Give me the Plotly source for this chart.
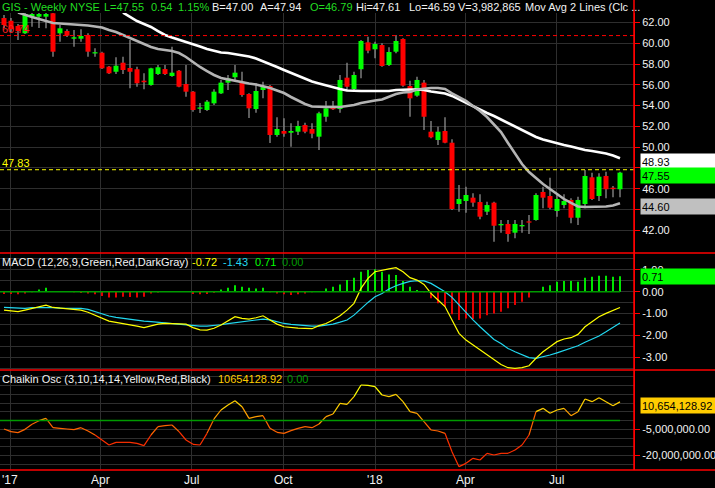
import pandas as pd
import plotly.graph_objects as go

# ---------------- data ----------------
start_week = "2016-12-26"
n_weeks = 89
weeks = pd.date_range(start_week, periods=n_weeks, freq="7D")

open_ = [62.43, 62.17, 61.66, 60.96, 62.56, 62.56, 62.56, 62.89, 60.96, 61.18,
         60.44, 60.44, 60.80, 59.02, 59.09, 57.75, 57.26, 58.13, 57.62, 57.50,
         56.40, 55.98, 57.04, 57.52, 56.85, 57.36, 56.08, 55.34, 53.70, 53.58,
         54.22, 55.18, 56.21, 56.73, 56.30, 55.12, 53.67, 55.50, 55.89, 51.17,
         51.56, 51.39, 51.49, 52.13, 51.75, 51.01, 52.93, 53.90, 53.67, 56.69,
         55.60, 57.50, 60.09, 59.42, 59.83, 57.91, 59.19, 60.41, 55.89, 54.96,
         56.21, 51.49, 50.69, 51.56, 50.43, 44.53, 44.82, 45.14, 44.72, 43.79,
         44.66, 42.48, 42.61, 41.77, 42.38, 42.86, 42.99, 45.69, 45.30, 43.86,
         44.43, 44.92, 43.21, 44.53, 47.10, 45.30, 47.23, 46.10, 45.95]
high = [62.72, 62.43, 61.86, 63.30, 63.30, 63.30, 63.30, 63.30, 61.76, 61.35,
        61.28, 61.35, 60.96, 59.52, 59.19, 57.81, 58.65, 58.71, 60.32, 57.75,
        57.11, 57.65, 57.91, 57.91, 59.67, 57.43, 57.91, 55.41, 54.25, 54.54,
        55.57, 56.47, 56.95, 57.91, 57.26, 55.19, 56.15, 56.30, 55.98, 52.87,
        52.78, 52.30, 52.55, 52.36, 52.30, 53.42, 54.44, 54.44, 56.95, 58.13,
        57.26, 60.32, 60.63, 60.15, 60.00, 59.61, 60.80, 60.48, 56.40, 56.78,
        56.47, 52.52, 51.97, 52.87, 50.76, 46.36, 46.20, 45.56, 45.46, 44.75,
        44.75, 42.99, 42.99, 42.99, 42.99, 43.47, 45.56, 46.20, 47.06, 45.56,
        45.46, 45.08, 45.23, 47.80, 47.54, 47.49, 47.64, 46.26, 47.64]
low = [61.47, 61.09, 60.32, 60.89, 61.60, 61.47, 61.44, 58.71, 60.15, 60.61,
       59.67, 60.15, 58.71, 58.71, 57.52, 57.04, 57.04, 57.04, 55.67, 55.82,
       55.57, 55.92, 56.95, 56.95, 56.78, 55.76, 54.86, 53.41, 53.29, 53.48,
       54.06, 55.12, 55.50, 56.47, 54.86, 52.81, 53.32, 54.70, 50.40, 51.01,
       51.01, 50.05, 51.17, 51.34, 50.85, 49.73, 52.45, 53.58, 53.32, 55.50,
       55.50, 56.63, 59.04, 58.55, 57.75, 57.81, 59.04, 55.82, 52.93, 54.86,
       51.65, 50.85, 50.21, 50.37, 43.95, 43.79, 43.69, 44.27, 43.06, 43.47,
       40.90, 41.77, 40.90, 41.23, 41.77, 41.64, 42.92, 44.12, 44.02, 43.31,
       44.12, 42.67, 42.51, 44.12, 44.92, 44.82, 45.08, 45.17, 45.17]
close = [61.76, 61.35, 61.18, 62.82, 62.82, 62.82, 62.82, 59.19, 61.44, 60.73,
         60.58, 60.70, 59.19, 59.14, 57.59, 57.11, 57.84, 57.43, 57.26, 56.15,
         56.25, 57.59, 57.69, 57.04, 57.17, 55.82, 55.34, 53.58, 53.82, 54.38,
         55.34, 56.21, 56.63, 57.17, 55.02, 53.74, 55.41, 55.82, 51.17, 51.75,
         51.30, 51.56, 52.04, 51.49, 51.30, 53.26, 53.74, 53.65, 56.47, 55.82,
         56.95, 60.22, 59.29, 59.93, 57.81, 59.16, 60.22, 55.92, 54.70, 56.47,
         52.93, 50.95, 51.49, 50.43, 44.05, 45.01, 45.40, 44.66, 43.31, 44.43,
         42.44, 42.61, 41.64, 42.61, 42.51, 42.74, 45.40, 45.14, 44.17, 45.01,
         44.82, 43.21, 44.92, 47.23, 45.01, 47.16, 45.95, 45.96, 47.55]

ma_fast = [None, None, 62.95, 62.72, 62.53, 62.34, 62.14, 61.95, 61.90, 61.86,
           61.81, 61.76, 61.71, 61.62, 61.52, 61.28, 61.09, 60.80, 60.51, 60.22,
           59.93, 59.64, 59.45, 59.35, 59.26, 59.06, 58.68, 58.20, 57.72, 57.33,
           56.95, 56.66, 56.51, 56.42, 56.27, 56.13, 56.03, 55.89, 55.70, 55.46,
           55.21, 54.83, 54.49, 54.16, 53.92, 53.87, 53.87, 53.87, 53.87, 53.96,
           54.06, 54.25, 54.40, 54.49, 54.59, 54.83, 55.12, 55.26, 55.31, 55.55,
           55.65, 55.70, 55.70, 55.60, 55.17, 54.78, 54.45, 53.96, 53.48, 52.90,
           52.23, 51.46, 50.40, 49.44, 48.38, 47.61, 47.03, 46.45, 45.97, 45.49,
           45.01, 44.63, 44.29, 44.24, 44.24, 44.24, 44.29, 44.39, 44.60]
ma_slow = [None] * 17 + [
           62.95, 62.53, 62.14, 61.86, 61.57, 61.18, 60.80, 60.56, 60.36, 60.12,
           59.93, 59.69, 59.45, 59.26, 59.11, 59.06, 58.97, 58.87, 58.73, 58.54,
           58.29, 58.01, 57.72, 57.43, 57.14, 56.85, 56.56, 56.32, 56.13, 55.94,
           55.74, 55.60, 55.46, 55.41, 55.41, 55.41, 55.41, 55.41, 55.41, 55.50,
           55.55, 55.55, 55.55, 55.50, 55.36, 55.26, 55.17, 54.93, 54.59, 54.25,
           53.92, 53.58, 53.29, 53.00, 52.66, 52.33, 51.94, 51.61, 51.32, 50.98,
           50.74, 50.55, 50.35, 50.21, 50.07, 49.87, 49.73, 49.63, 49.54, 49.39,
           49.20, 48.93]

macd = [-0.84, -0.88, -0.91, -0.84, -0.76, -0.68, -0.61, -0.72, -0.75, -0.76,
        -0.79, -0.84, -0.94, -1.07, -1.22, -1.34, -1.40, -1.45, -1.49, -1.57,
        -1.64, -1.55, -1.48, -1.45, -1.45, -1.45, -1.48, -1.64, -1.74, -1.75,
        -1.67, -1.52, -1.34, -1.14, -1.22, -1.25, -1.19, -1.10, -1.29, -1.48,
        -1.60, -1.64, -1.66, -1.67, -1.69, -1.55, -1.45, -1.29, -1.10, -0.84,
        -0.53, 0.15, 0.61, 0.91, 0.96, 1.04, 1.10, 0.91, 0.64, 0.53,
        0.33, -0.08, -0.38, -0.68, -1.29, -1.90, -2.21, -2.44, -2.66, -2.86,
        -3.12, -3.32, -3.47, -3.50, -3.47, -3.38, -3.04, -2.74, -2.51, -2.28,
        -2.16, -2.10, -1.95, -1.60, -1.37, -1.14, -0.99, -0.84, -0.72]
signal = [-0.72, -0.73, -0.76, -0.76, -0.73, -0.72, -0.72, -0.73, -0.75, -0.76,
          -0.76, -0.76, -0.81, -0.91, -1.04, -1.11, -1.17, -1.22, -1.26, -1.31,
          -1.34, -1.37, -1.40, -1.45, -1.46, -1.49, -1.52, -1.55, -1.57, -1.57,
          -1.55, -1.51, -1.46, -1.42, -1.39, -1.35, -1.31, -1.25, -1.29, -1.37,
          -1.45, -1.49, -1.52, -1.55, -1.57, -1.57, -1.54, -1.48, -1.39, -1.29,
          -1.07, -0.76, -0.49, -0.23, -0.08, 0.12, 0.27, 0.38, 0.47, 0.50,
          0.49, 0.38, 0.20, 0.00, -0.26, -0.61, -0.94, -1.29, -1.60, -1.90,
          -2.18, -2.36, -2.59, -2.74, -2.89, -3.01, -3.04, -2.97, -2.89, -2.79,
          -2.68, -2.59, -2.47, -2.31, -2.18, -2.02, -1.83, -1.64, -1.43]
hist = [-0.10, -0.10, -0.12, -0.08, -0.03, 0.10, 0.18, 0.02, 0.00, 0.00,
        -0.02, -0.06, -0.08, -0.12, -0.20, -0.26, -0.27, -0.23, -0.24, -0.26,
        -0.23, -0.08, -0.04, 0.00, 0.01, 0.02, 0.02, -0.10, -0.12, -0.10,
        -0.05, 0.10, 0.18, 0.30, 0.23, 0.18, 0.15, 0.18, -0.02, -0.08,
        -0.12, -0.15, -0.12, -0.08, -0.03, 0.02, 0.15, 0.23, 0.33, 0.53,
        0.64, 0.91, 0.99, 1.03, 0.91, 0.79, 0.76, 0.49, 0.23, 0.08,
        -0.03, -0.30, -0.53, -0.68, -1.03, -1.29, -1.22, -1.25, -1.22, -1.07,
        -0.99, -0.91, -0.76, -0.61, -0.46, -0.27, 0.00, 0.23, 0.30, 0.46,
        0.49, 0.49, 0.46, 0.64, 0.68, 0.73, 0.73, 0.68, 0.71]
chaikin_m = [-4.86, -6.38, -6.95, -5.05, -2.19, -0.10, 1.24, -4.10, -4.48, -4.86,
             -5.24, -4.10, -6.00, -8.29, -11.14, -14.00, -12.48, -12.48, -12.48, -13.05,
             -14.38, -8.29, -3.52, -2.95, -2.57, -6.38, -11.14, -13.62, -14.00, -7.33,
             0.86, 6.00, 8.86, 11.33, 7.90, 1.24, 2.19, 2.76, -4.48, -6.76,
             -7.33, -5.81, -4.48, -3.52, -4.10, -2.00, 2.19, 3.71, 9.81, 9.24,
             13.62, 20.29, 20.10, 19.33, 14.57, 13.62, 14.95, 10.76, 5.05, 4.10,
             -0.67, -5.43, -6.00, -7.33, -17.81, -26.38, -24.48, -21.62, -22.57, -18.76,
             -19.71, -18.76, -18.76, -16.86, -14.00, -8.29, 5.05, 6.95, 4.10, 6.00,
             6.95, 2.76, 5.05, 12.29, 10.76, 13.05, 10.76, 8.48, 10.654]

price_ticks = [42, 44, 46, 48, 50, 52, 54, 56, 58, 60, 62]
price_hidden = [44, 48]  # labels covered by the value boxes
macd_ticks = [1, 0, -1, -2, -3]
chaikin_ticks = [-5_000_000, -20_000_000]
x_ticks = ["2017-01-01", "2017-04-01", "2017-07-01", "2017-10-01",
           "2018-01-01", "2018-04-01", "2018-07-01"]
x_labels = ["'17", "Apr", "Jul", "Oct", "'18", "Apr", "Jul"]

# ---------------- styling ----------------
FONT = "Liberation Sans"
GRID = "#2e2e2e"
RED = "#ff0000"
TXT = "#f2f2f2"
GREEN_T = "#22dd22"
UP = "#00ff00"
DN = "#ff0000"
WICK = "#9a9a9a"
DAY = 86400000
PW, PH = 634.0, 470.0  # plot area size in px


def xp(px):
    return px / PW


def yp(py):
    return 1 - py / PH


fig = go.Figure()

# wicks
fig.add_trace(go.Bar(x=weeks, y=[h - l for h, l in zip(high, low)], base=low,
                     width=DAY * 1.2, marker=dict(color=WICK, line=dict(width=0)),
                     xaxis="x", yaxis="y", hoverinfo="skip"))
# bodies
fig.add_trace(go.Bar(x=weeks, y=[abs(c - o) for o, c in zip(open_, close)],
                     base=[min(o, c) for o, c in zip(open_, close)],
                     width=DAY * 5,
                     marker=dict(color=[UP if c >= o else DN for o, c in zip(open_, close)],
                                 line=dict(width=0)),
                     xaxis="x", yaxis="y"))
fig.add_trace(go.Scatter(x=weeks, y=ma_slow, mode="lines",
                         line=dict(color="#ffffff", width=2.6), xaxis="x", yaxis="y"))
fig.add_trace(go.Scatter(x=weeks, y=ma_fast, mode="lines",
                         line=dict(color="#b4b4b4", width=2.6), xaxis="x", yaxis="y"))

# MACD
fig.add_trace(go.Bar(x=weeks, y=hist, width=DAY * 1.8,
                     marker=dict(color=[UP if v >= 0 else DN for v in hist], line=dict(width=0)),
                     xaxis="x", yaxis="y2"))
fig.add_trace(go.Scatter(x=weeks, y=signal, mode="lines",
                         line=dict(color="#22d8f0", width=1.2), xaxis="x", yaxis="y2"))
fig.add_trace(go.Scatter(x=weeks, y=macd, mode="lines",
                         line=dict(color="#ffff00", width=1.2), xaxis="x", yaxis="y2"))

# Chaikin: colour each segment by its level
bins = [(15, 99, "#ffff00"), (5, 15, "#ffd000"), (0, 5, "#ffa000"),
        (-8, 0, "#ff6400"), (-99, -8, "#ff3000")]
for lo_b, hi_b, col in bins:
    xs, ys = [], []
    for i in range(n_weeks - 1):
        mid = (chaikin_m[i] + chaikin_m[i + 1]) / 2
        if lo_b <= mid < hi_b:
            xs += [weeks[i], weeks[i + 1], None]
            ys += [chaikin_m[i] * 1e6, chaikin_m[i + 1] * 1e6, None]
    fig.add_trace(go.Scatter(x=xs, y=ys, mode="lines", line=dict(color=col, width=1.2),
                             xaxis="x", yaxis="y3", connectgaps=False))

axis_common = dict(side="right", anchor="x", ticks="outside", ticklen=5, tickcolor=RED,
                   showline=True, linecolor=RED, linewidth=1, gridcolor=GRID, gridwidth=1,
                   zeroline=False, tickfont=dict(family=FONT, size=11, color=TXT),
                   tickmode="array", fixedrange=True, automargin=False)

fig.update_layout(
    width=715, height=488,
    margin=dict(l=0, r=81, t=0, b=18, autoexpand=False),
    paper_bgcolor="#000000", plot_bgcolor="#000000",
    showlegend=False, barmode="overlay",
    xaxis=dict(type="date", range=["2016-12-22", "2018-09-17"], anchor="y3",
               tickmode="array", tickvals=x_ticks, ticktext=[""] * len(x_ticks),
               showgrid=True, gridcolor=GRID, gridwidth=1, ticks="", showline=False,
               zeroline=False, automargin=False, fixedrange=True),
    yaxis=dict(domain=[yp(253), yp(13)], range=[39.815, 62.914],
               tickvals=price_ticks,
               ticktext=["" if v in price_hidden else f"{v:.2f}" for v in price_ticks],
               **axis_common),
    yaxis2=dict(domain=[yp(370), yp(253)], range=[-3.575, 1.767],
                tickvals=macd_ticks, ticktext=[f"{v:.2f}" for v in macd_ticks],
                minor=dict(tick0=0, dtick=0.5, showgrid=True, gridcolor=GRID, gridwidth=1),
                **axis_common),
    yaxis3=dict(domain=[0, yp(370)], range=[-28.286e6, 28.857e6],
                tickvals=chaikin_ticks, ticktext=[f"{v:,.2f}" for v in chaikin_ticks],
                minor=dict(tick0=0, dtick=5e6, showgrid=True, gridcolor=GRID, gridwidth=1),
                **axis_common),
)

shapes = []
# level lines
shapes.append(dict(type="line", xref="paper", x0=0, x1=1, yref="y", y0=60.74, y1=60.74,
                   line=dict(color=RED, width=1, dash="4px,3px")))
shapes.append(dict(type="line", xref="paper", x0=0, x1=1, yref="y", y0=47.83, y1=47.83,
                   line=dict(color="#ffff00", width=1, dash="4px,3px")))
# zero lines
shapes.append(dict(type="line", xref="paper", x0=0, x1=xp(620), yref="y2", y0=0, y1=0,
                   line=dict(color="#009a00", width=1.5)))
shapes.append(dict(type="line", xref="paper", x0=0, x1=xp(620), yref="y3", y0=0, y1=0,
                   line=dict(color="#009a00", width=1.5)))
# panel separators & frame
for py in (253, 370, 470):
    shapes.append(dict(type="line", xref="paper", x0=0, x1=715 / PW, yref="paper",
                       y0=yp(py), y1=yp(py), line=dict(color=RED, width=1.5)))
shapes.append(dict(type="line", xref="paper", x0=1, x1=1, yref="paper", y0=0, y1=1,
                   line=dict(color=RED, width=1.5)))
fig.update_layout(shapes=shapes)

ann = []


def text(t, xpx, ypx, color, size=11):
    ann.append(dict(text=t, xref="paper", yref="paper", x=xp(xpx), y=yp(ypx),
                    xanchor="left", yanchor="middle", showarrow=False, borderpad=0,
                    font=dict(family=FONT, size=size, color=color)))


def box(t, ypx, bg):
    ann.append(dict(text=t, xref="paper", yref="paper", x=xp(640), y=yp(ypx),
                    xanchor="left", yanchor="middle", showarrow=False, align="left",
                    bgcolor=bg, width=73, height=13, borderpad=1,
                    font=dict(family=FONT, size=11, color="#000000")))


# x-axis labels (centred on their grid lines)
for tv, tl in zip(x_ticks, x_labels):
    ann.append(dict(text=tl, xref="x", yref="paper", x=tv, y=yp(480),
                    xanchor="center", yanchor="middle", showarrow=False,
                    font=dict(family=FONT, size=12, color=TXT)))

# price header
text("GIS - Weekly", 1, 7, GREEN_T)
text("NYSE", 69, 7, GREEN_T)
text("L=47.55", 103, 7, GREEN_T)
text("0.54", 150, 7, GREEN_T)
text("1.15%", 177, 7, GREEN_T)
text("B=47.00", 211, 7, TXT)
text("A=47.94", 259, 7, TXT)
text("O=46.79", 309, 7, GREEN_T)
text("Hi=47.61", 355, 7, TXT)
text("Lo=46.59", 408, 7, TXT)
text("V=3,982,865", 457, 7, TXT)
text("Mov Avg 2 Lines (Clc ...", 524, 7, TXT)
# level labels
text("60.74", 1, 29, "#ff2020")
text("47.83", 1, 163, "#ffff00")
# MACD header
text("MACD (12,26,9,Green,Red,DarkGray)", 1, 262, TXT)
text("-0.72", 191, 262, "#ffff00")
text("-1.43", 222, 262, "#22d8f0")
text("0.71", 254, 262, "#00ff00")
text("0.00", 281, 262, "#009a00")
# Chaikin header
text("Chaikin Osc (3,10,14,14,Yellow,Red,Black)", 1, 379, TXT)
text("10654128.92", 217, 379, "#ffcc00")
text("0.00", 286, 379, "#009a00")
# value boxes on the right axis
box("48.93", 161, "#ffffff")
box("47.55", 175, "#00ff00")
box("44.60", 206, "#c0c0c0")
box("0.71", 276.5, "#00ff00")
box("10,654,128.92", 405.5, "#ffcc00")

fig.update_layout(annotations=ann)
fig.write_html(
    "out.html",
    config={"displayModeBar": False, "staticPlot": True},
    post_script="document.body.style.margin='0px';document.body.style.padding='0px';"
                "document.body.style.background='#000000';",
)
